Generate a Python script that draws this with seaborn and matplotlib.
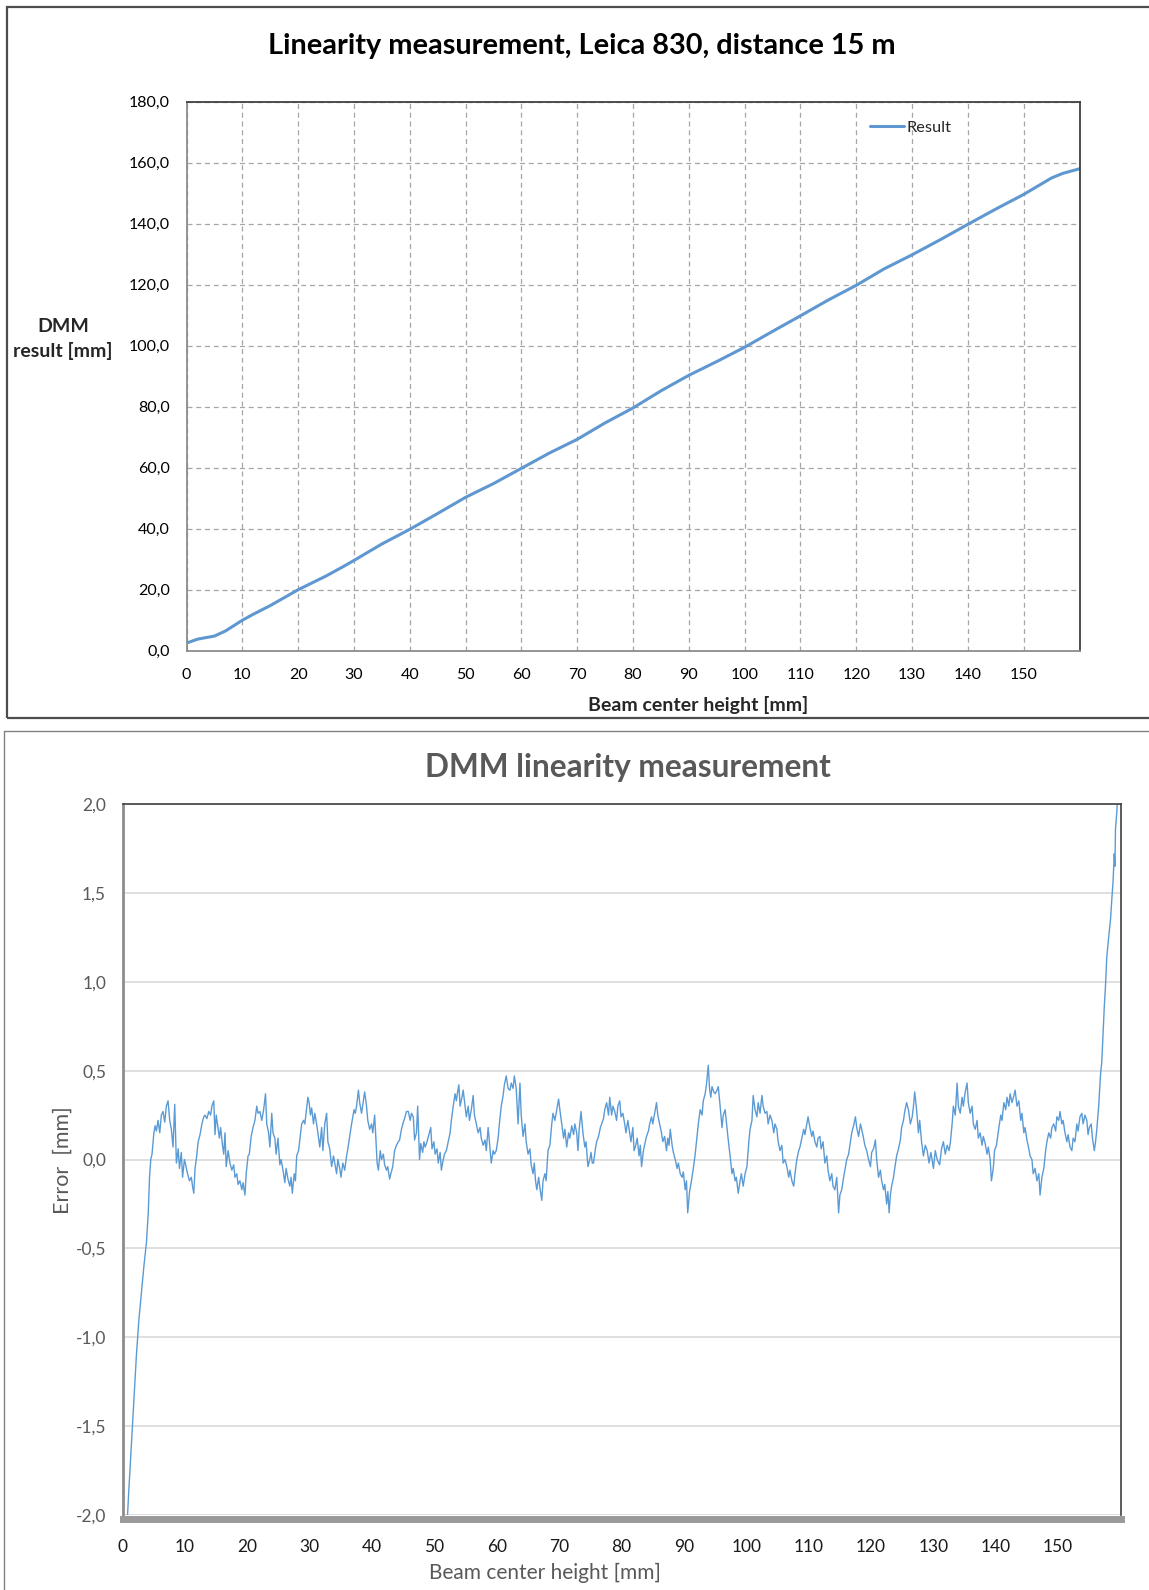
import numpy as np
import pandas as pd
import matplotlib
matplotlib.use('Agg')
import matplotlib.pyplot as plt
import seaborn as sns
from matplotlib.lines import Line2D
from matplotlib.patches import Rectangle

# ---- top chart: DMM result vs beam center height ----
top_height = [0, 2, 5, 7, 10, 12, 15, 20, 25, 28, 30, 35, 40, 45, 50, 55, 60, 65, 70,
              75, 80, 85, 90, 95, 100, 105, 110, 115, 120, 125, 130, 135, 140, 145,
              150, 155, 157, 160]
top_result = [2.5, 3.8, 4.8, 6.5, 10.0, 12.0, 14.8, 20.0, 24.5, 27.5, 29.6, 35.0, 39.8,
              45.0, 50.3, 54.8, 59.8, 64.8, 69.3, 74.7, 79.6, 85.2, 90.3, 94.8, 99.5,
              104.7, 109.8, 115.0, 119.8, 125.2, 129.8, 134.7, 139.8, 144.8, 149.6,
              155.0, 156.5, 158.0]
top_xticks = list(range(0, 161, 10))
top_xlabels = [str(v) for v in range(0, 151, 10)] + ['']
top_yticks = list(range(0, 181, 20))
top_ylabels = ['0,0', '20,0', '40,0', '60,0', '80,0', '100,0', '120,0', '140,0',
               '160,0', '180,0']

# ---- bottom chart: error vs beam center height ----
err_x = [
    0.7, 1.0, 1.4, 1.8, 2.2, 2.6, 3.0, 3.4, 3.8, 4.1, 4.3, 4.5, 4.7,
    5.0, 5.2, 5.4, 5.67, 5.94, 6.2, 6.47, 6.74, 7.0, 7.27, 7.54, 7.8, 8.07, 8.34, 8.61,
    8.9, 9.1, 9.4, 9.6, 9.9, 10.1, 10.4, 10.7, 11.0, 11.2, 11.4, 11.6, 11.8,
    12.1, 12.4, 12.7, 13.0, 13.2, 13.5, 13.8, 14.1, 14.3, 14.6,
    14.8, 15.0, 15.2, 15.5, 15.7, 16.0, 16.2, 16.4, 16.6, 16.9,
    17.2, 17.5, 17.8, 18.0, 18.3, 18.5, 18.8, 19.1, 19.3, 19.6, 19.8, 20.1, 20.3,
    20.6, 20.9, 21.2, 21.5, 21.7, 22.0, 22.3, 22.6, 22.9, 23.1,
    23.4, 23.6, 23.9, 24.1, 24.4, 24.6, 24.9, 25.2, 25.4, 25.7,
    26.0, 26.2, 26.5, 26.8, 27.0, 27.2, 27.5, 27.7, 27.9,
    28.2, 28.5, 28.7, 29.0, 29.2, 29.5, 29.7, 29.9, 30.1, 30.3,
    30.6, 30.8, 31.0, 31.3, 31.6, 31.9, 32.1, 32.4, 32.7, 32.9,
    33.2, 33.5, 33.8, 34.0, 34.3, 34.5, 34.8, 35.0, 35.3, 35.6, 35.9, 36.1,
    36.4, 36.7, 37.1, 37.3, 37.5, 37.8, 38.0, 38.3, 38.6, 38.8,
    39.1, 39.3, 39.6, 39.9, 40.1, 40.4, 40.6, 40.8, 41.0, 41.3,
    41.5, 41.8, 42.0, 42.3, 42.5, 42.8, 43.0, 43.3, 43.6,
    43.9, 44.2, 44.4, 44.7, 45.0, 45.2, 45.5, 45.8, 46.1, 46.3,
    46.6, 46.8, 47.1, 47.3, 47.6, 47.8, 48.1, 48.3, 48.5, 48.8,
    49.1, 49.4, 49.6, 49.9, 50.1, 50.4, 50.6, 50.9, 51.1, 51.4, 51.6, 51.9,
    52.2, 52.5, 52.7, 53.0, 53.3, 53.5, 53.7, 53.9, 54.1, 54.4,
    54.6, 54.9, 55.1, 55.4, 55.6, 55.9, 56.2, 56.4, 56.7, 57.0,
    57.3, 57.5, 57.8, 58.1, 58.3, 58.6, 58.9, 59.1, 59.4, 59.6, 59.9,
    60.2, 60.4, 60.7, 61.0, 61.2, 61.5, 61.8, 62.1, 62.3, 62.6,
    62.8, 63.1, 63.4, 63.7, 63.9, 64.2, 64.5, 64.7, 65.0, 65.3,
    65.5, 65.8, 66.0, 66.2, 66.4, 66.7, 66.9, 67.2, 67.4, 67.7, 67.9, 68.2,
    68.5, 68.8, 69.0, 69.3, 69.6, 69.9, 70.1, 70.4, 70.7, 70.9,
    71.2, 71.5, 71.7, 72.0, 72.3, 72.5, 72.8, 73.0, 73.2, 73.5,
    73.8, 74.1, 74.3, 74.6, 74.9, 75.1, 75.3, 75.5, 75.8, 76.0, 76.3,
    76.6, 76.8, 77.1, 77.3, 77.6, 77.9, 78.1, 78.4, 78.6, 78.9,
    79.2, 79.4, 79.7, 79.9, 80.2, 80.5, 80.7, 81.0, 81.3, 81.5,
    81.8, 82.0, 82.2, 82.5, 82.8, 83.0, 83.2, 83.5, 83.8, 84.0,
    84.3, 84.5, 84.8, 85.0, 85.3, 85.6, 85.8, 86.1, 86.4, 86.6,
    86.9, 87.2, 87.4, 87.6, 87.8, 88.1, 88.3, 88.6, 88.9, 89.1,
    89.4, 89.7, 89.9, 90.2, 90.4, 90.6, 90.9, 91.2, 91.5, 91.8,
    92.0, 92.3, 92.6, 92.9, 93.1, 93.4, 93.6, 93.9, 94.1, 94.3,
    94.5, 94.8, 95.0, 95.3, 95.5, 95.8, 96.1, 96.3, 96.6, 96.9,
    97.1, 97.4, 97.7, 97.9, 98.2, 98.4, 98.7, 99.0, 99.2, 99.5, 99.8, 100.1,
    100.4, 100.6, 100.9, 101.1, 101.4, 101.7, 101.9, 102.2, 102.5, 102.7,
    103.0, 103.3, 103.5, 103.8, 104.1, 104.4, 104.6, 104.9, 105.1, 105.4,
    105.7, 105.9, 106.2, 106.5, 106.8, 107.0, 107.3, 107.6, 107.8, 108.1,
    108.4, 108.6, 108.9, 109.2, 109.4, 109.7, 109.9, 110.2, 110.5, 110.7,
    111.0, 111.3, 111.5, 111.8, 112.0, 112.3, 112.6, 112.9, 113.1, 113.4,
    113.7, 113.9, 114.2, 114.5, 114.8, 115.0, 115.3, 115.6, 115.9,
    116.1, 116.4, 116.7, 116.9, 117.2, 117.5, 117.7, 118.0, 118.3, 118.5,
    118.8, 119.0, 119.3, 119.6, 119.9, 120.1, 120.4, 120.7, 120.9, 121.2,
    121.5, 121.7, 122.0, 122.2, 122.5, 122.7, 122.9, 123.1, 123.3, 123.6, 123.8, 124.1,
    124.4, 124.7, 124.9, 125.2, 125.4, 125.7, 126.0, 126.3, 126.6, 126.8,
    127.0, 127.3, 127.6, 127.8, 128.1, 128.4, 128.7, 129.0, 129.3, 129.6,
    130.0, 130.3, 130.6, 131.0, 131.3, 131.6, 131.9, 132.2, 132.5,
    132.7, 133.0, 133.2, 133.5, 133.8, 134.0, 134.3, 134.6, 134.8, 135.1,
    135.4, 135.6, 135.9, 136.2, 136.4, 136.7, 137.0, 137.2, 137.5, 137.8,
    138.0, 138.3, 138.6, 138.8, 139.1, 139.3, 139.6, 139.8, 140.1,
    140.5, 140.8, 141.0, 141.3, 141.6, 141.8, 142.1, 142.3, 142.6, 142.9,
    143.1, 143.4, 143.7, 144.0, 144.2, 144.5, 144.7, 145.0, 145.3, 145.5,
    145.8, 146.0, 146.3, 146.6, 146.9, 147.1, 147.4, 147.7, 148.0, 148.2,
    148.5, 148.8, 149.0, 149.3, 149.6, 149.8, 150.1, 150.3, 150.6, 150.8,
    151.1, 151.4, 151.6, 151.9, 152.2, 152.4, 152.7, 153.0, 153.2, 153.5,
    153.8, 154.0, 154.3, 154.6, 154.8, 155.0, 155.3, 155.5, 155.8, 156.0,
    156.2, 156.5, 156.8, 157.0, 157.2, 157.4, 157.6, 157.8, 158.1, 158.4,
    158.6, 158.8, 159.0, 159.1, 159.2, 159.4, 159.5, 159.7,
]
err_mm = [
    -2.05, -1.85, -1.6, -1.35, -1.1, -0.9, -0.75, -0.6, -0.47, -0.3, -0.1, 0.0, 0.03,
    0.15, 0.19, 0.16, 0.22, 0.15, 0.25, 0.27, 0.21, 0.30, 0.33, 0.22, 0.17, 0.07, 0.31, -0.02,
    0.06, -0.05, 0.04, -0.1, 0.0, -0.03, -0.08, -0.12, -0.1, -0.15, -0.19, -0.05, 0.0,
    0.1, 0.14, 0.2, 0.24, 0.25, 0.23, 0.27, 0.25, 0.3, 0.33,
    0.14, 0.25, 0.2, 0.12, 0.18, 0.08, 0.03, 0.15, -0.04, 0.05,
    -0.02, -0.06, -0.03, -0.1, -0.08, -0.14, -0.12, -0.17, -0.13, -0.2, -0.08, 0.02, 0.03,
    0.13, 0.18, 0.22, 0.3, 0.26, 0.27, 0.22, 0.28, 0.37, 0.2,
    0.15, 0.07, 0.26, 0.15, 0.12, 0.03, 0.12, -0.03, 0.0, -0.06,
    -0.13, -0.05, -0.11, -0.15, -0.1, -0.19, -0.08, -0.12, 0.02,
    0.05, 0.14, 0.2, 0.22, 0.2, 0.29, 0.35, 0.32, 0.25, 0.29,
    0.2, 0.26, 0.22, 0.15, 0.07, 0.18, 0.05, 0.2, 0.26, 0.1,
    0.06, -0.04, 0.02, -0.02, -0.08, 0.0, -0.05, -0.1, -0.02, -0.06, 0.02, 0.06,
    0.13, 0.2, 0.28, 0.26, 0.3, 0.39, 0.32, 0.26, 0.33, 0.38,
    0.3, 0.22, 0.17, 0.2, 0.15, 0.25, 0.12, -0.02, -0.06, 0.05,
    0.0, 0.03, -0.03, -0.06, -0.04, -0.11, -0.08, -0.04, 0.05,
    0.08, 0.1, 0.11, 0.17, 0.21, 0.23, 0.27, 0.27, 0.22, 0.26,
    0.24, 0.11, 0.15, 0.3, 0.0, 0.09, 0.04, 0.1, 0.07, 0.1,
    0.14, 0.18, 0.06, 0.1, 0.03, 0.06, -0.02, 0.04, -0.06, 0.0, 0.03, 0.05,
    0.1, 0.15, 0.22, 0.3, 0.37, 0.33, 0.38, 0.42, 0.3, 0.35,
    0.39, 0.3, 0.24, 0.3, 0.22, 0.28, 0.36, 0.25, 0.2, 0.15,
    0.18, 0.12, 0.08, 0.11, 0.05, 0.18, 0.06, -0.02, 0.05, 0.03, 0.05,
    0.12, 0.2, 0.3, 0.36, 0.42, 0.47, 0.4, 0.39, 0.43, 0.4,
    0.47, 0.4, 0.2, 0.43, 0.25, 0.13, 0.2, 0.1, 0.03, 0.06,
    -0.03, -0.08, -0.02, -0.12, -0.17, -0.1, -0.16, -0.23, -0.12, -0.08, -0.12, 0.05,
    0.08, 0.2, 0.26, 0.22, 0.28, 0.34, 0.28, 0.2, 0.12, 0.17,
    0.07, 0.15, 0.12, 0.19, 0.14, 0.2, 0.15, 0.05, 0.17, 0.27,
    0.15, 0.07, 0.1, -0.04, 0.0, 0.04, -0.02, -0.02, 0.06, 0.1, 0.13,
    0.18, 0.2, 0.23, 0.28, 0.32, 0.25, 0.35, 0.25, 0.3, 0.27,
    0.22, 0.3, 0.33, 0.24, 0.26, 0.2, 0.15, 0.22, 0.15, 0.1,
    0.18, 0.05, 0.07, 0.12, 0.02, 0.08, -0.04, 0.05, 0.1, 0.13,
    0.16, 0.2, 0.24, 0.2, 0.26, 0.32, 0.25, 0.2, 0.15, 0.1,
    0.13, 0.05, 0.12, 0.08, 0.17, 0.08, 0.04, 0.0, -0.05, -0.02,
    -0.08, -0.1, -0.07, -0.17, -0.12, -0.3, -0.18, -0.12, -0.05, 0.03,
    0.1, 0.2, 0.28, 0.25, 0.33, 0.37, 0.42, 0.53, 0.4, 0.35,
    0.41, 0.38, 0.37, 0.39, 0.41, 0.3, 0.18, 0.25, 0.28, 0.18,
    0.11, 0.02, -0.08, -0.05, -0.12, -0.1, -0.19, -0.12, -0.08, -0.15, -0.08, -0.04,
    0.1, 0.17, 0.22, 0.36, 0.28, 0.24, 0.32, 0.26, 0.36, 0.3,
    0.26, 0.27, 0.2, 0.25, 0.22, 0.15, 0.2, 0.17, 0.1, 0.05,
    0.08, -0.02, 0.0, -0.04, -0.1, -0.06, -0.12, -0.15, -0.08, 0.0,
    0.05, 0.07, 0.12, 0.17, 0.14, 0.2, 0.24, 0.18, 0.13, 0.16,
    0.1, 0.07, 0.12, 0.13, 0.06, 0.1, -0.02, 0.02, -0.06, -0.12,
    -0.08, -0.15, -0.17, -0.1, -0.3, -0.2, -0.17, -0.1, -0.04,
    0.0, 0.03, 0.1, 0.15, 0.19, 0.24, 0.18, 0.13, 0.2, 0.17,
    0.12, 0.08, 0.05, 0.0, -0.04, 0.04, 0.06, 0.11, 0.0, -0.1,
    -0.06, -0.12, -0.17, -0.14, -0.25, -0.18, -0.3, -0.2, -0.15, -0.1, -0.05, 0.02,
    0.06, 0.11, 0.18, 0.22, 0.27, 0.32, 0.28, 0.2, 0.24, 0.3,
    0.38, 0.28, 0.15, 0.22, 0.1, 0.02, 0.08, 0.05, -0.02, 0.04,
    -0.05, 0.05, 0.0, -0.03, 0.06, 0.1, 0.03, 0.08, 0.05,
    0.09, 0.2, 0.3, 0.25, 0.43, 0.3, 0.26, 0.35, 0.3, 0.38,
    0.43, 0.32, 0.26, 0.3, 0.2, 0.17, 0.22, 0.12, 0.15, 0.08,
    0.13, 0.09, 0.03, 0.07, 0.0, -0.12, -0.05, 0.05, 0.08,
    0.18, 0.25, 0.22, 0.32, 0.28, 0.35, 0.3, 0.37, 0.32, 0.36,
    0.39, 0.3, 0.33, 0.22, 0.26, 0.15, 0.18, 0.11, 0.06, 0.02,
    0.0, -0.08, -0.05, -0.12, -0.08, -0.2, -0.1, -0.05, 0.05, 0.1,
    0.15, 0.12, 0.18, 0.2, 0.16, 0.24, 0.22, 0.27, 0.2, 0.22,
    0.15, 0.1, 0.14, 0.07, 0.05, 0.12, 0.1, 0.2, 0.16, 0.24,
    0.26, 0.2, 0.25, 0.22, 0.14, 0.18, 0.2, 0.12, 0.05, 0.1,
    0.17, 0.3, 0.48, 0.55, 0.7, 0.86, 0.98, 1.14, 1.25, 1.35,
    1.46, 1.56, 1.72, 1.65, 1.86, 1.95, 2.02, 2.1,
]
err_xticks = list(range(0, 151, 10))
err_yticks = [-2.0, -1.5, -1.0, -0.5, 0.0, 0.5, 1.0, 1.5, 2.0]
err_ylabels = ['-2,0', '-1,5', '-1,0', '-0,5', '0,0', '0,5', '1,0', '1,5', '2,0']

sns.set_theme(style='white')
plt.rcParams['font.family'] = ['Lato', 'DejaVu Sans']

W, H = 1149, 1590
fig = plt.figure(figsize=(W / 100, H / 100), dpi=100)


def fx(p):
    return p / W


def fy(p):
    return 1 - p / H


# panel frames (screenshot of two spreadsheet charts)
fig.patches.append(Rectangle((fx(7), fy(718)), fx(1152) - fx(7), fy(7) - fy(718),
                             transform=fig.transFigure, fill=False,
                             edgecolor='#4d4d4d', lw=1.6))
fig.lines.append(Line2D([fx(3.5), 1], [fy(731.5), fy(731.5)], transform=fig.transFigure,
                        color='#808080', lw=1.0))
fig.lines.append(Line2D([fx(3.5), fx(3.5)], [fy(731.5), 0], transform=fig.transFigure,
                        color='#808080', lw=1.0))

# ---------- top chart ----------
ax1 = fig.add_axes([fx(186.6), fy(650.7), fx(1079.5) - fx(186.6), fy(101.7) - fy(650.7)])
df_top = pd.DataFrame({'height': top_height, 'result': top_result})
sns.lineplot(data=df_top, x='height', y='result', ax=ax1, color='#5f97d0', lw=2.2,
             label='Result', sort=False, estimator=None)
ax1.set_xlim(0, 160)
ax1.set_ylim(0, 180)
ax1.set_xticks(top_xticks)
ax1.set_xticklabels(top_xlabels)
ax1.set_yticks(top_yticks)
ax1.set_yticklabels(top_ylabels)
ax1.set_xlabel('')
ax1.set_ylabel('')
ax1.grid(True, ls=(0, (4, 3)), color='#a6a6a6', lw=0.9)
ax1.tick_params(axis='both', direction='out', length=4.5, width=1, color='#8c8c8c',
                labelsize=11.5, labelcolor='#000000')
ax1.tick_params(axis='y', pad=7.5)
ax1.tick_params(axis='x', pad=8)
for s in ['top', 'right']:
    ax1.spines[s].set_color('#404040')
    ax1.spines[s].set_linewidth(1.3)
for s in ['left', 'bottom']:
    ax1.spines[s].set_color('#8c8c8c')
    ax1.spines[s].set_linewidth(1.3)
ax1.legend(loc='center left', bbox_to_anchor=(fx(870), fy(127.7)),
           bbox_transform=fig.transFigure, frameon=False, borderpad=0, borderaxespad=0,
           handlelength=2.1, handletextpad=0.15, fontsize=11.8)

fig.text(fx(582), fy(46), 'Linearity measurement, Leica 830, distance 15 m',
         ha='center', va='center', fontsize=20.8, fontweight='bold', color='#000000')
fig.text(fx(63), fy(339), 'DMM\nresult [mm]', ha='center', va='center',
         fontsize=14, fontweight='bold', linespacing=1.42)
fig.text(fx(698), fy(705), 'Beam center height [mm]', ha='center', va='center',
         fontsize=14, fontweight='bold')

# ---------- bottom chart ----------
ax2 = fig.add_axes([fx(122.7), fy(1515), fx(1120.5) - fx(122.7), fy(804) - fy(1515)])
df_err = pd.DataFrame({'height': err_x, 'error': err_mm})
sns.lineplot(data=df_err, x='height', y='error', ax=ax2, color='#5b9bd5', lw=1.0,
             sort=False, estimator=None)
ax2.set_xlim(0, 160)
ax2.set_ylim(-2, 2)
ax2.set_xticks(err_xticks)
ax2.set_yticks(err_yticks)
ax2.set_yticklabels(err_ylabels)
ax2.set_xlabel('')
ax2.set_ylabel('')
ax2.yaxis.grid(True, color='#d9d9d9', lw=1.2)
ax2.xaxis.grid(False)
ax2.set_axisbelow(True)
ax2.tick_params(axis='y', length=0, pad=12, labelsize=12.5, labelcolor='#595959')
ax2.tick_params(axis='x', length=0, pad=14, labelsize=12.5, labelcolor='#1a1a1a')
ax2.spines['left'].set_color('#8c8c8c')
ax2.spines['left'].set_linewidth(2.0)
for s in ['top', 'right']:
    ax2.spines[s].set_color('#404040')
    ax2.spines[s].set_linewidth(1.2)
ax2.spines['bottom'].set_color('#9a9a9a')
ax2.spines['bottom'].set_linewidth(5)
ax2.spines['bottom'].set_position(('outward', 3))

fig.text(fx(628), fy(768), 'DMM linearity measurement', ha='center', va='center',
         fontsize=22.8, fontweight='bold', color='#595959')
fig.text(fx(63), fy(1160), 'Error  [mm]', ha='center', va='center', rotation=90,
         fontsize=15.5, color='#595959')
fig.text(fx(545), fy(1573), 'Beam center height [mm]', ha='center', va='center',
         fontsize=15, color='#595959')

fig.savefig('out.png', dpi=100)
